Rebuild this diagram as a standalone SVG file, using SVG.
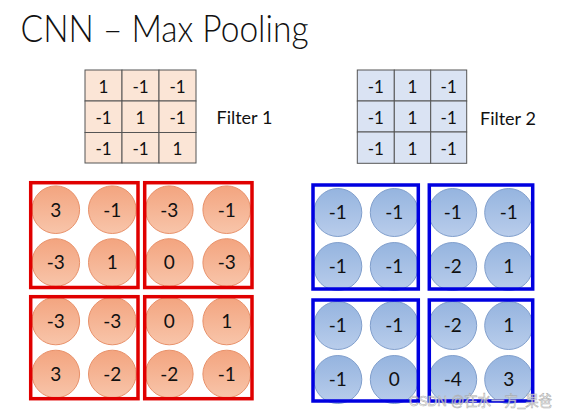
<svg xmlns="http://www.w3.org/2000/svg" width="568" height="417" viewBox="0 0 568 417">
<defs>
<linearGradient id="gOr" x1="0" y1="0" x2="0" y2="1">
<stop offset="0" stop-color="#F3A47F"/><stop offset="1" stop-color="#F8C5AA"/>
</linearGradient>
<linearGradient id="gBl" x1="0" y1="0" x2="0" y2="1">
<stop offset="0" stop-color="#95B4DF"/><stop offset="1" stop-color="#B9CDEB"/>
</linearGradient>
<style>
text{font-family:Lato,"Open Sans","Liberation Sans",sans-serif;fill:#111;}
.title{font-size:37px;font-weight:300;}
.lbl{font-size:18px;}
.cell{stroke:#555;stroke-width:1;}
.f1{fill:#FBE5D6;}
.f2{fill:#DAE3F3;}
.ft{font-size:17px;text-anchor:middle;}
.co{fill:url(#gOr);stroke:#E8916A;stroke-width:1;}
.cb{fill:url(#gBl);stroke:#819FCC;stroke-width:1;}
.ct{font-size:19px;text-anchor:middle;}
.rb{fill:none;stroke:#E00000;stroke-width:3.5;}
.bb{fill:none;stroke:#0000E0;stroke-width:3.5;}
.wm{font-family:"Liberation Sans","Noto Sans CJK SC",sans-serif;font-size:15px;fill:#fff;stroke:#a0a0a0;stroke-width:0.6;opacity:0.85;}
</style>
</defs>
<rect width="568" height="417" fill="#fff"/>
<g id="title"><text class="title" x="20.5" y="41.5" textLength="288" lengthAdjust="spacingAndGlyphs">CNN – Max Pooling</text></g>

<g id="filter1">
<rect class="cell f1" x="85" y="70" width="37" height="31"/>
<rect class="cell f1" x="122" y="70" width="37" height="31"/>
<rect class="cell f1" x="159" y="70" width="37" height="31"/>
<rect class="cell f1" x="85" y="101" width="37" height="31.5"/>
<rect class="cell f1" x="122" y="101" width="37" height="31.5"/>
<rect class="cell f1" x="159" y="101" width="37" height="31.5"/>
<rect class="cell f1" x="85" y="132.5" width="37" height="30.5"/>
<rect class="cell f1" x="122" y="132.5" width="37" height="30.5"/>
<rect class="cell f1" x="159" y="132.5" width="37" height="30.5"/>
<text class="ft" x="103.5" y="92.5">1</text><text class="ft" x="140.5" y="92.5">-1</text><text class="ft" x="177.5" y="92.5">-1</text>
<text class="ft" x="103.5" y="123.5">-1</text><text class="ft" x="140.5" y="123.5">1</text><text class="ft" x="177.5" y="123.5">-1</text>
<text class="ft" x="103.5" y="154.5">-1</text><text class="ft" x="140.5" y="154.5">-1</text><text class="ft" x="177.5" y="154.5">1</text>
</g>
<g id="filter1-label"><text class="lbl" x="216.5" y="124.3">Filter 1</text></g>

<g id="filter2">
<rect class="cell f2" x="357.3" y="70" width="37" height="31"/>
<rect class="cell f2" x="394.3" y="70" width="36.4" height="31"/>
<rect class="cell f2" x="430.7" y="70" width="36" height="31"/>
<rect class="cell f2" x="357.3" y="101" width="37" height="31"/>
<rect class="cell f2" x="394.3" y="101" width="36.4" height="31"/>
<rect class="cell f2" x="430.7" y="101" width="36" height="31"/>
<rect class="cell f2" x="357.3" y="132" width="37" height="31.3"/>
<rect class="cell f2" x="394.3" y="132" width="36.4" height="31.3"/>
<rect class="cell f2" x="430.7" y="132" width="36" height="31.3"/>
<text class="ft" x="375.8" y="92.5">-1</text><text class="ft" x="412.5" y="92.5">1</text><text class="ft" x="448.7" y="92.5">-1</text>
<text class="ft" x="375.8" y="123.5">-1</text><text class="ft" x="412.5" y="123.5">1</text><text class="ft" x="448.7" y="123.5">-1</text>
<text class="ft" x="375.8" y="154.8">-1</text><text class="ft" x="412.5" y="154.8">1</text><text class="ft" x="448.7" y="154.8">-1</text>
</g>
<g id="filter2-label"><text class="lbl" x="480" y="125">Filter 2</text></g>

<g id="red-circles">
<circle class="co" cx="55.8" cy="209.7" r="23.8"/><text class="ct" x="55.8" y="216.5">3</text>
<circle class="co" cx="112.3" cy="209.7" r="23.8"/><text class="ct" x="112.3" y="216.5">-1</text>
<circle class="co" cx="169.3" cy="209.7" r="23.8"/><text class="ct" x="169.3" y="216.5">-3</text>
<circle class="co" cx="226.7" cy="209.7" r="23.8"/><text class="ct" x="226.7" y="216.5">-1</text>
<circle class="co" cx="55.8" cy="262.5" r="23.8"/><text class="ct" x="55.8" y="269.3">-3</text>
<circle class="co" cx="112.3" cy="262.5" r="23.8"/><text class="ct" x="112.3" y="269.3">1</text>
<circle class="co" cx="169.3" cy="262.5" r="23.8"/><text class="ct" x="169.3" y="269.3">0</text>
<circle class="co" cx="226.7" cy="262.5" r="23.8"/><text class="ct" x="226.7" y="269.3">-3</text>
<circle class="co" cx="55.8" cy="321" r="23.8"/><text class="ct" x="55.8" y="327.8">-3</text>
<circle class="co" cx="112.3" cy="321" r="23.8"/><text class="ct" x="112.3" y="327.8">-3</text>
<circle class="co" cx="169.3" cy="321" r="23.8"/><text class="ct" x="169.3" y="327.8">0</text>
<circle class="co" cx="226.7" cy="321" r="23.8"/><text class="ct" x="226.7" y="327.8">1</text>
<circle class="co" cx="55.8" cy="374" r="23.8"/><text class="ct" x="55.8" y="380.8">3</text>
<circle class="co" cx="112.3" cy="374" r="23.8"/><text class="ct" x="112.3" y="380.8">-2</text>
<circle class="co" cx="169.3" cy="374" r="23.8"/><text class="ct" x="169.3" y="380.8">-2</text>
<circle class="co" cx="226.7" cy="374" r="23.8"/><text class="ct" x="226.7" y="380.8">-1</text>
</g>
<g id="red-box-1"><rect class="rb" x="30.7" y="182.7" width="107.3" height="104.8"/></g>
<g id="red-box-2"><rect class="rb" x="144.7" y="182.7" width="107.3" height="104.8"/></g>
<g id="red-box-3"><rect class="rb" x="30.7" y="296.7" width="107.3" height="102"/></g>
<g id="red-box-4"><rect class="rb" x="144.7" y="296.7" width="107.3" height="102"/></g>

<g id="blue-circles">
<circle class="cb" cx="337.8" cy="212.5" r="24"/><text class="ct" x="337.8" y="219.3">-1</text>
<circle class="cb" cx="394.3" cy="212.5" r="24"/><text class="ct" x="394.3" y="219.3">-1</text>
<circle class="cb" cx="452.7" cy="212.5" r="24"/><text class="ct" x="452.7" y="219.3">-1</text>
<circle class="cb" cx="508.7" cy="212.5" r="24"/><text class="ct" x="508.7" y="219.3">-1</text>
<circle class="cb" cx="337.8" cy="266.5" r="24"/><text class="ct" x="337.8" y="273.3">-1</text>
<circle class="cb" cx="394.3" cy="266.5" r="24"/><text class="ct" x="394.3" y="273.3">-1</text>
<circle class="cb" cx="452.7" cy="266.5" r="24"/><text class="ct" x="452.7" y="273.3">-2</text>
<circle class="cb" cx="508.7" cy="266.5" r="24"/><text class="ct" x="508.7" y="273.3">1</text>
<circle class="cb" cx="337.8" cy="325.5" r="24"/><text class="ct" x="337.8" y="332.3">-1</text>
<circle class="cb" cx="394.3" cy="325.5" r="24"/><text class="ct" x="394.3" y="332.3">-1</text>
<circle class="cb" cx="452.7" cy="325.5" r="24"/><text class="ct" x="452.7" y="332.3">-2</text>
<circle class="cb" cx="508.7" cy="325.5" r="24"/><text class="ct" x="508.7" y="332.3">1</text>
<circle class="cb" cx="337.8" cy="379.5" r="24"/><text class="ct" x="337.8" y="386.3">-1</text>
<circle class="cb" cx="394.3" cy="379.5" r="24"/><text class="ct" x="394.3" y="386.3">0</text>
<circle class="cb" cx="452.7" cy="379.5" r="24"/><text class="ct" x="452.7" y="386.3">-4</text>
<circle class="cb" cx="508.7" cy="379.5" r="24"/><text class="ct" x="508.7" y="386.3">3</text>
</g>
<g id="blue-box-1"><rect class="bb" x="313" y="185" width="105.3" height="104"/></g>
<g id="blue-box-2"><rect class="bb" x="429.3" y="185" width="103.4" height="104"/></g>
<g id="blue-box-3"><rect class="bb" x="313" y="300" width="105.3" height="101"/></g>
<g id="blue-box-4"><rect class="bb" x="429.3" y="300" width="103.4" height="101"/></g>

<g id="watermark"><text class="wm" x="409" y="406" textLength="143" lengthAdjust="spacingAndGlyphs">CSDN @在水一方_果爸</text></g>
</svg>
